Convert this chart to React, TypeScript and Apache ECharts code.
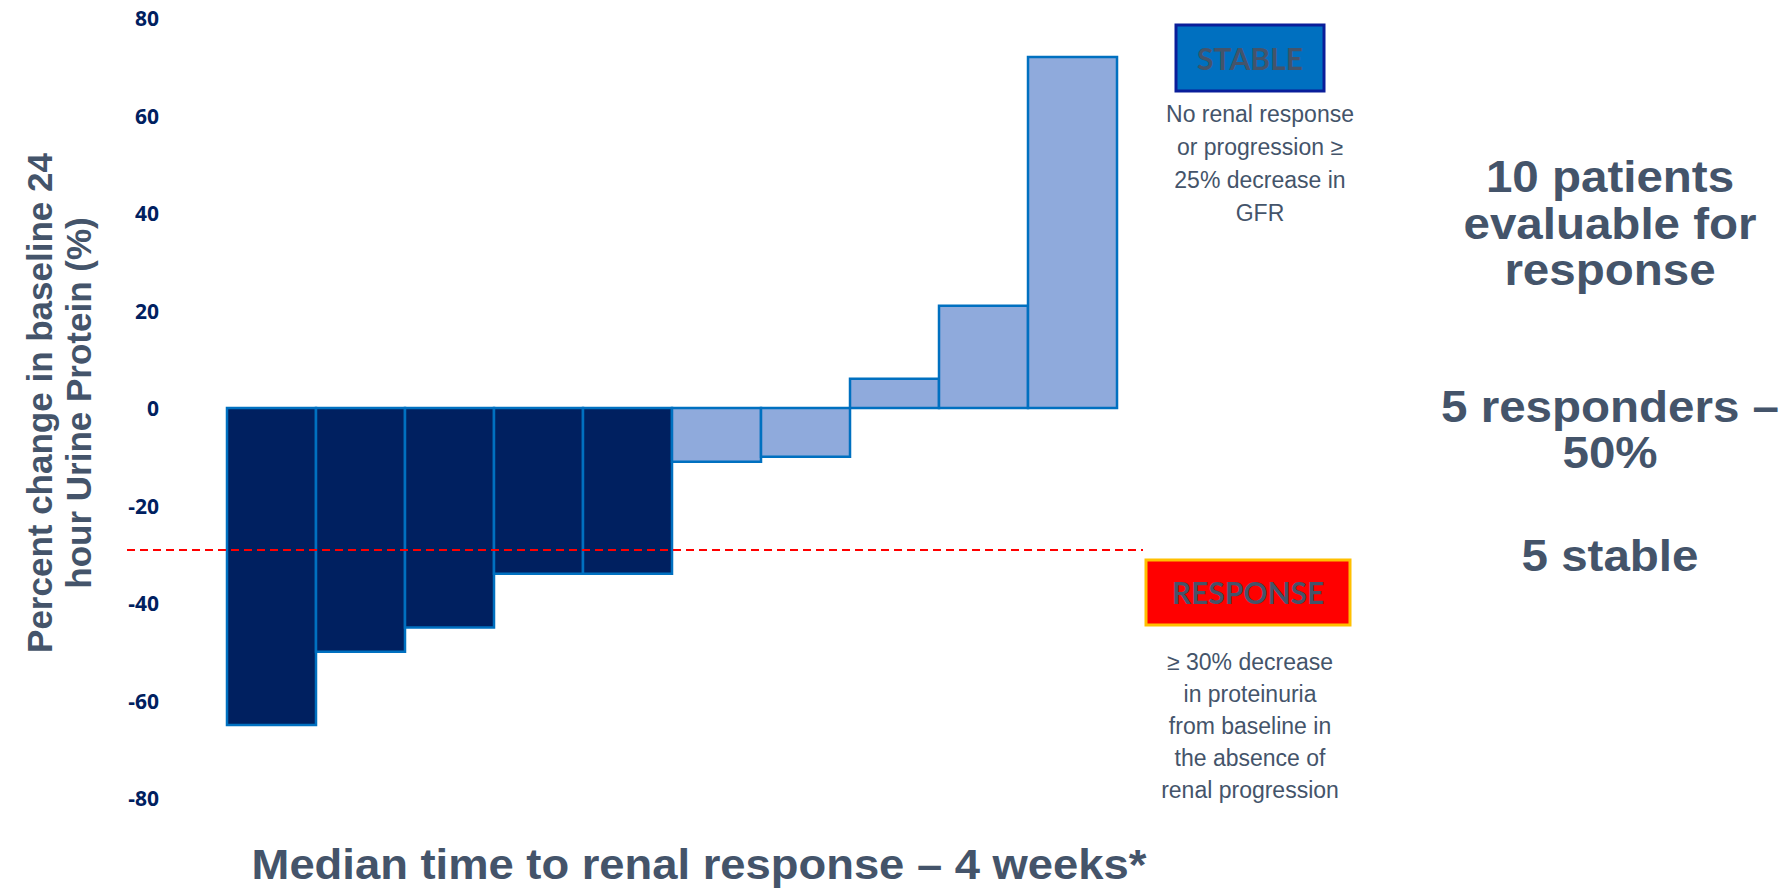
import React, { useEffect, useRef } from "react";
import * as echarts from "echarts";

// Waterfall of per-patient change in 24-hour urine protein
const patients = ["1", "2", "3", "4", "5", "6", "7", "8", "9", "10"];
const pctChange = [-65, -50, -45, -34, -34, -11, -10, 6, 21, 72];
const isResponder = [true, true, true, true, true, false, false, false, false, false];
const responseThreshold = -29;
const yMin = -80;
const yMax = 80;
const yStep = 20;

const yTitleLines = ["Percent change in baseline 24", "hour Urine Protein (%)"];
const bottomTitle = "Median time to renal response \u2013 4 weeks*";
const summaryBlocks = [
  ["10 patients", "evaluable for", "response"],
  ["5 responders \u2013", "50%"],
  ["5 stable"],
];
const stableLabel = "STABLE";
const stableNote = ["No renal response", "or progression \u2265", "25% decrease in", "GFR"];
const responseLabel = "RESPONSE";
const responseNote = [
  "\u2265 30% decrease",
  "in proteinuria",
  "from baseline in",
  "the absence of",
  "renal progression",
];

const DARK = "#002060";
const LIGHT = "#8FAADC";
const EDGE = "#0070C0";
const SLATE = "#44546A";

// vertical centre of each summary block
const summaryBlockY = [224, 430, 556];

export default function App() {
  const ref = useRef<HTMLDivElement | null>(null);

  useEffect(() => {
    if (!ref.current) return;
    const chart = echarts.init(ref.current, undefined, { renderer: "svg" });

    const data = pctChange.map((v, i) => [i, v, isResponder[i] ? 1 : 0, patients[i]]);

    const bigText = (lines: string[], y: number) => ({
      type: "text",
      x: 1610,
      y,
      scaleX: 1.08,
      style: {
        text: lines.join("\n"),
        fontFamily: "Liberation Sans",
        fontWeight: "bold",
        fontSize: 44,
        lineHeight: 46.5,
        fill: SLATE,
        align: "center",
        verticalAlign: "middle",
      },
    });

    chart.setOption({
      animation: false,
      backgroundColor: "#ffffff",
      grid: { left: 127, top: 18, width: 1016, height: 780, containLabel: false },
      xAxis: {
        type: "value",
        min: -1.1236,
        max: 10.292,
        show: false,
      },
      yAxis: {
        type: "value",
        min: yMin,
        max: yMax,
        interval: yStep,
        axisLine: { show: false },
        axisTick: { show: false },
        splitLine: { show: false },
        axisLabel: {
          margin: -32,
          align: "right",
          fontFamily: "Open Sans",
          fontWeight: "bold",
          fontSize: 21,
          color: DARK,
        },
      },
      series: [
        {
          type: "custom",
          data,
          encode: { x: 0, y: 1 },
          renderItem: (_params: any, api: any) => {
            const i = api.value(0);
            const v = api.value(1);
            const p0 = api.coord([i, 0]);
            const p1 = api.coord([i + 1, v]);
            return {
              type: "rect",
              shape: {
                x: p0[0],
                y: Math.min(p0[1], p1[1]),
                width: p1[0] - p0[0],
                height: Math.abs(p1[1] - p0[1]),
              },
              style: {
                fill: api.value(2) ? DARK : LIGHT,
                stroke: EDGE,
                lineWidth: 2.5,
              },
            };
          },
          markLine: {
            silent: true,
            symbol: "none",
            label: { show: false },
            lineStyle: { color: "#FF0000", type: [8, 5], width: 2 },
            data: [{ yAxis: responseThreshold }],
          },
        },
      ],
      graphic: [
        ...yTitleLines.map((t, k) => ({
          type: "text",
          x: k === 0 ? 39 : 78,
          y: 403,
          rotation: Math.PI / 2,
          style: {
            text: t,
            fontFamily: "Liberation Sans",
            fontWeight: "bold",
            fontSize: 35,
            fill: SLATE,
            align: "center",
            verticalAlign: "middle",
          },
        })),
        {
          type: "text",
          x: 699,
          y: 864,
          scaleX: 1.08,
          style: {
            text: bottomTitle,
            fontFamily: "Liberation Sans",
            fontWeight: "bold",
            fontSize: 42,
            fill: SLATE,
            align: "center",
            verticalAlign: "middle",
          },
        },
        ...summaryBlocks.map((lines, k) => bigText(lines, summaryBlockY[k])),
        {
          type: "rect",
          shape: { x: 1176, y: 25, width: 148, height: 66 },
          style: { fill: "#0070C0", stroke: "#0A1E9A", lineWidth: 3 },
        },
        {
          type: "text",
          x: 1250,
          y: 58,
          style: {
            text: stableLabel,
            fontFamily: "Lato",
            fontWeight: "bold",
            fontSize: 30,
            fill: SLATE,
            align: "center",
            verticalAlign: "middle",
          },
        },
        {
          type: "text",
          x: 1260,
          y: 163,
          style: {
            text: stableNote.join("\n"),
            fontFamily: "Liberation Sans",
            fontSize: 23,
            lineHeight: 33,
            fill: SLATE,
            align: "center",
            verticalAlign: "middle",
          },
        },
        {
          type: "rect",
          shape: { x: 1146, y: 560, width: 204, height: 65 },
          style: { fill: "#FF0000", stroke: "#FFC000", lineWidth: 3 },
        },
        {
          type: "text",
          x: 1248,
          y: 592,
          style: {
            text: responseLabel,
            fontFamily: "Lato",
            fontWeight: "bold",
            fontSize: 30,
            fill: SLATE,
            align: "center",
            verticalAlign: "middle",
          },
        },
        {
          type: "text",
          x: 1250,
          y: 726,
          style: {
            text: responseNote.join("\n"),
            fontFamily: "Liberation Sans",
            fontSize: 23,
            lineHeight: 32,
            fill: SLATE,
            align: "center",
            verticalAlign: "middle",
          },
        },
      ],
    });

    return () => chart.dispose();
  }, []);

  return (
    <div
      ref={ref}
      style={{ position: "absolute", left: 0, top: 0, width: 1791, height: 894 }}
    />
  );
}
